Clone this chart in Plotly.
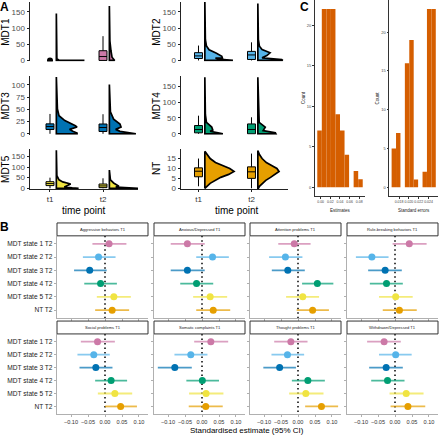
import plotly.graph_objects as go

W = H = 440
FONT = "Liberation Sans, Arial, sans-serif"

# ---------------- Panel A: raincloud data ----------------
A_NAMES = ["MDT1", "MDT2", "MDT3", "MDT4", "MDT5", "NT"]
A_COLORS = ["#CC79A7", "#56B4E9", "#0072B2", "#009E73", "#F0E442", "#E69F00"]
TIME_LABELS = ["t1", "t2"]
A_YTICKS = [[0, 50, 100, 150], [0, 50, 100, 150], [0, 25, 50, 75, 100],
            [0, 50, 100, 150], [0, 50, 100, 150], [0, 5, 10, 15]]

# box stats: [q1, median, q3, lower whisker, upper whisker] for t1 and t2
MDT1_BOX = [[0, 0, 0, 0, 0], [0, 12, 30, 0, 75]]
MDT2_BOX = [[6, 14, 24, 0, 46], [3, 17, 28, 0, 56]]
MDT3_BOX = [[8.7, 14.9, 20.3, 0, 40.6], [4.7, 12.8, 20, 0, 40]]
MDT4_BOX = [[3, 13.4, 26, 0, 57], [0, 13.5, 31, 0, 52]]
MDT5_BOX = [[12.6, 22, 31, 0, 50], [3, 11, 20, 0, 47]]
NT_BOX = [[5.8, 8.6, 10.3, 1, 15], [5, 8.3, 10.8, 0, 17.5]]

# half-violin outlines: values (top -> bottom) and density widths
MDT1_T1_Y = [145, 5, 1, 0]
MDT1_T1_W = [0, 0.01, 0.05, 0.53]
MDT1_T2_Y = [168, 60, 30, 10, 0]
MDT1_T2_W = [0, 0.01, 0.03, 0.05, 0.1]
MDT2_T1_Y = [181, 64, 45, 33, 23, 13, 8, 7, 3, 0]
MDT2_T1_W = [0, 0.01, 0.03, 0.08, 0.21, 0.32, 0.33, 0.2, 0.3, 0.53]
MDT2_T2_Y = [176, 64, 44, 34, 23.5, 15, 8, 3, 0]
MDT2_T2_W = [0, 0.01, 0.03, 0.08, 0.23, 0.17, 0.08, 0.45, 0.47]
MDT3_T1_Y = [116, 51, 37, 27, 17, 14, 9, 5, 1.5, 0]
MDT3_T1_W = [0, 0.02, 0.05, 0.16, 0.35, 0.39, 0.25, 0.31, 0.39, 0.39]
MDT3_T2_Y = [101, 45, 30, 20, 14, 9, 5, 2, 0]
MDT3_T2_W = [0, 0.02, 0.08, 0.2, 0.22, 0.12, 0.2, 0.45, 0.5]
MDT4_T1_Y = [178, 60, 36, 21, 12, 8, 3, 0]
MDT4_T1_W = [0, 0.01, 0.03, 0.13, 0.15, 0.1, 0.25, 0.34]
MDT4_T2_Y = [178, 60, 36, 21, 10, 3, 0]
MDT4_T2_W = [0, 0.01, 0.025, 0.14, 0.1, 0.33, 0.34]
MDT5_T1_Y = [179, 60, 40, 30, 20, 12, 6, 2, 0]
MDT5_T1_W = [0, 0.01, 0.05, 0.12, 0.27, 0.2, 0.15, 0.3, 0.42]
MDT5_T2_Y = [86, 40, 25, 15, 10, 6, 3, 0]
MDT5_T2_W = [0, 0.02, 0.08, 0.15, 0.18, 0.12, 0.3, 0.55]
NT_T1_Y = [18.7, 17, 15, 13, 11.5, 10, 8.5, 7, 5.5, 4, 2.5, 1, 0]
NT_T1_W = [0, 0.04, 0.1, 0.2, 0.32, 0.47, 0.55, 0.45, 0.3, 0.2, 0.1, 0.04, 0.01]
NT_T2_Y = [19, 17, 15, 13, 11.5, 10, 8.5, 7, 5.5, 4, 2.5, 1, 0]
NT_T2_W = [0, 0.03, 0.08, 0.16, 0.26, 0.36, 0.4, 0.33, 0.24, 0.15, 0.08, 0.03, 0.01]

A_BOXES = [MDT1_BOX, MDT2_BOX, MDT3_BOX, MDT4_BOX, MDT5_BOX, NT_BOX]
A_DENS = [[(MDT1_T1_Y, MDT1_T1_W), (MDT1_T2_Y, MDT1_T2_W)],
          [(MDT2_T1_Y, MDT2_T1_W), (MDT2_T2_Y, MDT2_T2_W)],
          [(MDT3_T1_Y, MDT3_T1_W), (MDT3_T2_Y, MDT3_T2_W)],
          [(MDT4_T1_Y, MDT4_T1_W), (MDT4_T2_Y, MDT4_T2_W)],
          [(MDT5_T1_Y, MDT5_T1_W), (MDT5_T2_Y, MDT5_T2_W)],
          [(NT_T1_Y, NT_T1_W), (NT_T2_Y, NT_T2_W)]]

# ---------------- Panel B: forest data ----------------
B_TITLES = ["Aggressive behaviors T1", "Anxious/Depressed T1", "Attention problems T1",
            "Rule-breaking behaviors T1", "Social problems T1", "Somatic complaints T1",
            "Thought problems T1", "Withdrawn/Depressed T1"]
B_ROWS = ["MDT state 1 T2", "MDT state 2 T2", "MDT state 3 T2",
          "MDT state 4 T2", "MDT state 5 T2", "NT T2"]
B_COLORS = ["#CC79A7", "#56B4E9", "#0072B2", "#009E73", "#F0E442", "#E69F00"]
B_EST = [[0.012, -0.019, -0.045, -0.013, 0.026, 0.021],
         [-0.043, 0.031, -0.043, -0.016, 0.024, 0.033],
         [-0.011, -0.037, -0.030, 0.057, 0.014, 0.043],
         [0.042, -0.068, -0.029, -0.025, 0.002, 0.013],
         [-0.022, -0.033, -0.027, 0.018, 0.029, 0.046],
         [0.026, -0.033, -0.080, 0.001, 0.012, 0.011],
         [-0.021, -0.031, -0.054, 0.029, 0.023, 0.069],
         [-0.032, 0.002, -0.026, -0.022, 0.033, 0.038]]
B_LO = [[-0.037, -0.065, -0.091, -0.061, -0.024, -0.029],
        [-0.092, -0.017, -0.092, -0.064, -0.026, -0.017],
        [-0.058, -0.085, -0.077, 0.012, -0.035, -0.004],
        [-0.007, -0.115, -0.079, -0.074, -0.047, -0.036],
        [-0.071, -0.081, -0.075, -0.029, -0.021, 0.000],
        [-0.023, -0.081, -0.130, -0.046, -0.038, -0.039],
        [-0.070, -0.078, -0.102, -0.018, -0.026, 0.021],
        [-0.082, -0.047, -0.076, -0.070, -0.016, -0.013]]
B_HI = [[0.063, 0.031, 0.005, 0.035, 0.076, 0.071],
        [0.008, 0.079, 0.008, 0.033, 0.074, 0.083],
        [0.037, 0.013, 0.020, 0.104, 0.062, 0.091],
        [0.093, -0.019, 0.020, 0.023, 0.052, 0.064],
        [0.029, 0.014, 0.022, 0.065, 0.080, 0.094],
        [0.077, 0.016, -0.030, 0.050, 0.063, 0.061],
        [0.028, 0.018, -0.006, 0.079, 0.075, 0.118],
        [0.017, 0.049, 0.023, 0.028, 0.084, 0.089]]
B_XTICKS = [-0.10, -0.05, 0.00, 0.05, 0.10]
B_XTICKTEXT = ["\u22120.10", "\u22120.05", "0.00", "0.05", "0.10"]

# ---------------- Panel C: histogram data ----------------
EST_COUNTS = [7, 22, 22, 22, 9, 7, 4, 0, 2, 1]
EST_BIN_START = -0.0070
EST_BIN_WIDTH = 0.00942
SE_COUNTS = [5, 7, 0, 16, 19, 1, 0, 2, 23, 23]
SE_BIN_START = 0.01648
SE_BIN_WIDTH = 0.0009

# ================= build figure =================
fig = go.Figure()
layout = dict(width=W, height=H, margin=dict(l=0, r=0, t=0, b=0),
              paper_bgcolor="white", plot_bgcolor="white", showlegend=False,
              font=dict(family=FONT, color="black"))
annotations = []
shapes = []


def xdom(a, b):
    return [a / W, b / W]


def ydom(top, bottom):
    return [1 - bottom / H, 1 - top / H]


def add_axes(n, xd, yd, xa, ya):
    kx = "xaxis" if n == 1 else f"xaxis{n}"
    ky = "yaxis" if n == 1 else f"yaxis{n}"
    xa = dict(xa)
    ya = dict(ya)
    xa.update(domain=xd, anchor=f"y{n}" if n > 1 else "y", tickangle=0)
    ya.update(domain=yd, anchor=f"x{n}" if n > 1 else "x", tickangle=0)
    layout[kx] = xa
    layout[ky] = ya
    return ("x" if n == 1 else f"x{n}"), ("y" if n == 1 else f"y{n}")


def ann(x, y, text, size, **kw):
    d = dict(x=x / W, y=1 - y / H, xref="paper", yref="paper", text=text,
             showarrow=False, font=dict(size=size, family=FONT, color=kw.pop("color", "black")))
    d.update(kw)
    annotations.append(d)


# ---------- Panel A ----------
A_GEOM = [
    (30, 138, 2, 62, [0.623, 2.660], [-3.06, 180.6]),
    (181, 288, 2, 62, [0.670, 2.689], [-3.06, 180.6]),
    (30, 138, 77, 136, [0.623, 2.660], [-2.0, 117.6]),
    (181, 288, 77, 136, [0.670, 2.689], [-3.1, 181.0]),
    (30, 138, 150, 191, [0.623, 2.660], [-4.7, 187.0]),
    (181, 288, 150, 191, [0.670, 2.689], [-0.5, 20.0]),
]
OFFSET = 0.12
BOXW = 0.15
n = 0
for i in range(6):
    n += 1
    xl, xr, yt, yb, xrg, yrg = A_GEOM[i]
    bottom_row = i >= 4
    xa = dict(range=xrg, showgrid=False, zeroline=False, fixedrange=True,
              showline=bottom_row, linecolor="#222", linewidth=1,
              ticks="outside" if bottom_row else "", ticklen=2, tickcolor="#222",
              tickvals=[1, 2], ticktext=TIME_LABELS, showticklabels=bottom_row,
              tickfont=dict(size=8, color="#333", family=FONT))
    ya = dict(range=yrg, showgrid=False, zeroline=False, fixedrange=True,
              showline=True, linecolor="#222", linewidth=1, ticks="outside",
              ticklen=2.5, tickcolor="#222", tickvals=A_YTICKS[i],
              tickfont=dict(size=8, color="#4d4d4d", family=FONT))
    xr_, yr_ = add_axes(n, xdom(xl, xr), ydom(yt, yb), xa, ya)
    col = A_COLORS[i]
    for t in range(2):
        xc = t + 1
        ys, ws = A_DENS[i][t]
        x0 = xc + OFFSET
        px = [x0 + w for w in ws] + [x0, x0 + ws[0]]
        py = list(ys) + [ys[-1], ys[0]]
        fig.add_trace(go.Scatter(x=px, y=py, mode="lines", fill="toself",
                                 fillcolor=col, line=dict(color="black", width=1.7),
                                 xaxis=xr_, yaxis=yr_, hoverinfo="skip"))
        q1, med, q3, lo, hi = A_BOXES[i][t]
        if q3 - q1 <= 0:
            fig.add_trace(go.Scatter(x=[xc], y=[med], mode="markers",
                                     marker=dict(color="black", size=6),
                                     xaxis=xr_, yaxis=yr_, hoverinfo="skip"))
        else:
            fig.add_trace(go.Box(x=[xc], q1=[q1], median=[med], q3=[q3],
                                 lowerfence=[lo], upperfence=[hi], width=BOXW,
                                 fillcolor=col, line=dict(color="black", width=1),
                                 whiskerwidth=0, boxpoints=False,
                                 xaxis=xr_, yaxis=yr_, hoverinfo="skip"))
    ann(xl - 24, (yt + yb) / 2, A_NAMES[i], 10,
        textangle=-90, xanchor="center", yanchor="middle")

ann(84, 212, "time point", 10, xanchor="center", yanchor="middle")
ann(237, 212, "time point", 10, xanchor="center", yanchor="middle")
ann(4, 7, "<b>A</b>", 12, xanchor="center", yanchor="middle")

# ---------- Panel C ----------
C_GEOM = [
    (315, 365, 0, 198, [-0.0117, 0.0919], [-1.1, 23.1], EST_COUNTS, EST_BIN_START,
     EST_BIN_WIDTH, [0, 0.02, 0.04, 0.06, 0.08], ["0.00", "0.02", "0.04", "0.06", "0.08"],
     "Estimates"),
    (389.4, 438, 0, 198, [0.01603, 0.02593], [-1.15, 24.15], SE_COUNTS, SE_BIN_START,
     SE_BIN_WIDTH, [0.018, 0.020, 0.022, 0.024], ["0.018", "0.020", "0.022", "0.024"],
     "Standard errors"),
]
for g in C_GEOM:
    n += 1
    xl, xr, yt, yb, xrg, yrg, counts, start, bw, xtv, xtt, title = g
    xa = dict(range=xrg, showgrid=False, zeroline=False, fixedrange=True,
              showline=True, linecolor="#333", linewidth=0.8, ticks="outside",
              ticklen=2, tickcolor="#333", tickwidth=0.6, tickvals=xtv, ticktext=xtt,
              tickfont=dict(size=3.5, color="#444", family=FONT))
    ya = dict(range=yrg, showgrid=False, zeroline=False, fixedrange=True,
              showline=True, linecolor="#333", linewidth=0.8, ticks="outside",
              ticklen=2, tickcolor="#333", tickwidth=0.6, tickvals=[0, 5, 10, 15, 20],
              tickfont=dict(size=4, color="#444", family=FONT))
    xr_, yr_ = add_axes(n, xdom(xl, xr), ydom(yt, yb), xa, ya)
    centers = [start + bw * (k + 0.5) for k in range(len(counts))]
    fig.add_trace(go.Bar(x=centers, y=counts, width=bw, marker=dict(color="#D55E00",
                         line=dict(width=0)), xaxis=xr_, yaxis=yr_, hoverinfo="skip"))
    ann((xl + xr) / 2, 212, title, 4.5, xanchor="center", yanchor="middle", color="#222")
    ann(xl - 12, (yt + yb) / 2, "Count", 4.5, textangle=-90, xanchor="center",
        yanchor="middle", color="#222")
ann(304, 7, "<b>C</b>", 12, xanchor="center", yanchor="middle")

# ---------- Panel B ----------
ZEROS = [105, 202, 298, 395]
ROW_Y = [(238, 321, 225), (337, 418, 324)]
BXR = [-0.1412, 0.1265]
for p in range(8):
    n += 1
    r, c = divmod(p, 4)
    z = ZEROS[c]
    xl, xr = z - 48, z + 43
    yt, yb, st = ROW_Y[r]
    xa = dict(range=BXR, showgrid=False, zeroline=False, fixedrange=True,
              showline=True, linecolor="#b0b0b0", linewidth=1.3, ticks="outside",
              ticklen=2, tickcolor="#b0b0b0", tickvals=B_XTICKS, ticktext=B_XTICKTEXT,
              showticklabels=(r == 1), tickfont=dict(size=5.6, color="#333", family=FONT))
    ya = dict(range=[5.6, -0.6], showgrid=False, zeroline=False, fixedrange=True,
              showline=True, linecolor="#b0b0b0", linewidth=1.3, ticks="outside",
              ticklen=2, tickcolor="#b0b0b0", tickvals=list(range(6)), ticktext=B_ROWS,
              showticklabels=(c == 0), tickfont=dict(size=6.6, color="#222", family=FONT))
    xr_, yr_ = add_axes(n, xdom(xl, xr), ydom(yt, yb), xa, ya)
    fig.add_trace(go.Scatter(x=[0, 0], y=[-0.6, 5.6], mode="lines",
                             line=dict(color="black", width=1.5, dash="1.5px,3px"),
                             xaxis=xr_, yaxis=yr_, hoverinfo="skip"))
    for k in range(6):
        fig.add_trace(go.Scatter(x=[B_LO[p][k], B_HI[p][k]], y=[k, k], mode="lines",
                                 line=dict(color=B_COLORS[k], width=1.8), opacity=0.7,
                                 xaxis=xr_, yaxis=yr_, hoverinfo="skip"))
    fig.add_trace(go.Scatter(x=B_EST[p], y=list(range(6)), mode="markers",
                             marker=dict(color=B_COLORS, size=7, line=dict(width=0)),
                             xaxis=xr_, yaxis=yr_, hoverinfo="skip"))
    shapes.append(dict(type="rect", xref="paper", yref="paper", x0=xl / W, x1=xr / W,
                       y0=1 - (st + 13) / H, y1=1 - st / H, fillcolor="white",
                       line=dict(color="#333", width=1)))
    ann((xl + xr) / 2, st + 6.5, B_TITLES[p], 4.1, xanchor="center", yanchor="middle",
        color="#222")

ann(247, 434, "Standardised estimate (95% CI)", 8, xanchor="center", yanchor="middle")
ann(4, 229, "<b>B</b>", 12, xanchor="center", yanchor="middle")

layout["annotations"] = annotations
layout["shapes"] = shapes
fig.update_layout(**layout)
fig.write_html("out.html", config={"displayModeBar": False},
               post_script="document.body.style.margin='0';"
                           "document.body.style.overflow='hidden';")
